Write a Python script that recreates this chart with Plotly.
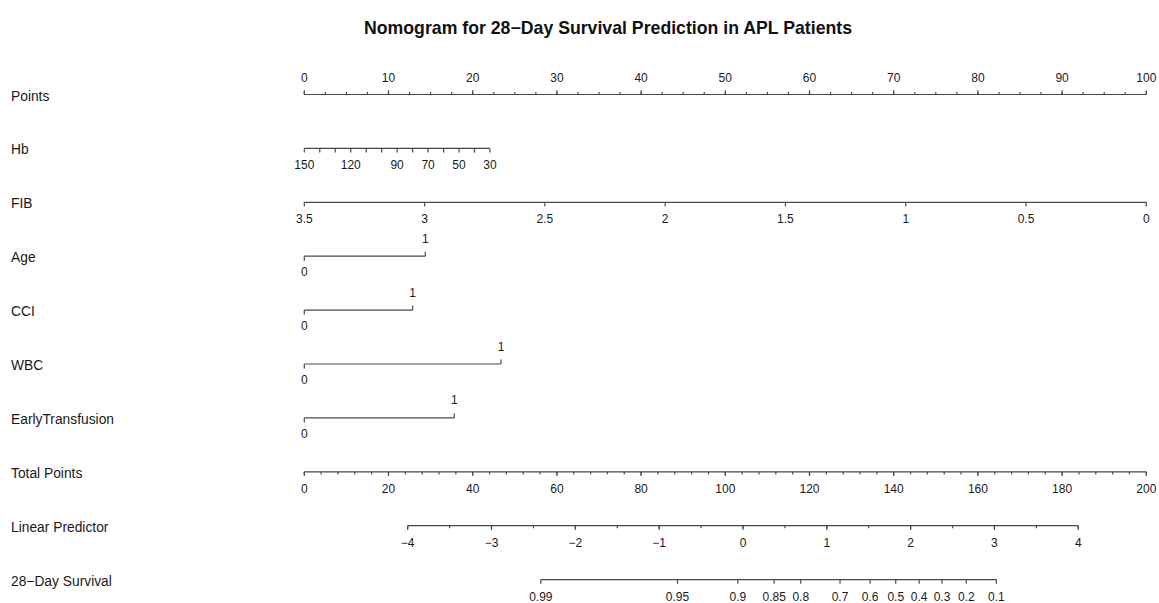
import numpy as np
import plotly.graph_objects as go

# ---------------------------------------------------------------- data
title = "Nomogram for 28\u2212Day Survival Prediction in APL Patients"

row_names = ["Points", "Hb", "FIB", "Age", "CCI", "WBC", "EarlyTransfusion",
             "Total Points", "Linear Predictor", "28\u2212Day Survival"]

# Points scale (0-100)
points_major = list(range(0, 101, 10))
points_minor = list(np.arange(0, 100.01, 2.5))

# Hb (g/L): linear contribution, 150 -> 0 points, 30 -> max points
hb_ticks = [150, 140, 130, 120, 110, 100, 90, 80, 70, 60, 50, 40, 30]
hb_labels = ["150", "", "", "120", "", "", "90", "", "70", "", "50", "", "30"]
hb_ref, hb_end, hb_max_points = 150, 30, 22.05

# FIB (g/L): 3.5 -> 0 points, 0 -> 100 points
fib_ticks = [3.5, 3, 2.5, 2, 1.5, 1, 0.5, 0]
fib_labels = ["3.5", "3", "2.5", "2", "1.5", "1", "0.5", "0"]
fib_ref, fib_end, fib_max_points = 3.5, 0, 100.0

# Binary predictors: points given to level 1
binary_vars = ["Age", "CCI", "WBC", "EarlyTransfusion"]
binary_points = [14.37, 12.87, 23.36, 17.81]

# Total points scale
total_max = 200
total_major = list(range(0, 201, 20))
total_minor = list(range(0, 201, 4))

# Linear predictor <-> total points
lp_major = [-4, -3, -2, -1, 0, 1, 2, 3, 4]
lp_minor = list(np.arange(-4, 4.01, 0.5))
lp0_total_points = 104.2
total_points_per_lp = 19.91

# 28-day survival: S = S0 ** exp(LP)
surv_ticks = [0.99, 0.95, 0.9, 0.85, 0.8, 0.7, 0.6, 0.5, 0.4, 0.3, 0.2, 0.1]
surv_labels = ["0.99", "0.95", "0.9", "0.85", "0.8", "0.7", "0.6", "0.5",
               "0.4", "0.3", "0.2", "0.1"]
baseline_surv_28 = 0.894

# ---------------------------------------------------------------- scales
def lin_points(v, ref, end, maxp):
    return (ref - v) / (ref - end) * maxp


def total_to_x(tp):
    return tp * 100.0 / total_max


def lp_to_x(lp):
    return total_to_x(lp0_total_points + lp * total_points_per_lp)


def surv_to_x(s):
    lp = np.log(np.log(s) / np.log(baseline_surv_28))
    return lp_to_x(lp)


def fmt_minus(v):
    return str(v).replace("-", "\u2212")

# ---------------------------------------------------------------- layout
W, H = 1159, 603
px0, px_per_pt = 304.3, 8.42
x_lo = -px0 / px_per_pt
x_hi = x_lo + W / px_per_pt

row_y = [94.5 + 53.9 * i for i in range(len(row_names))]
LINE_COL = "#4a4a4a"
TEXT_COL = "#1a1a1a"
FONT = "Liberation Sans, Arial, Helvetica, sans-serif"
TICK_FS = 12
NAME_FS = 13.8
MAJ, MIN = 4.2, 2.6

seg_x, seg_y = [], []


def seg(x0, y0, x1, y1):
    seg_x.extend([x0, x1, None])
    seg_y.extend([y0, y1, None])


lab_x, lab_y, lab_t = [], [], []


def lab(x, y, t):
    if t != "":
        lab_x.append(x)
        lab_y.append(y)
        lab_t.append(t)


# Points row: ticks up, labels above
y = row_y[0]
seg(0, y, 100, y)
for v in points_minor:
    seg(v, y, v, y - MIN)
for v in points_major:
    seg(v, y, v, y - MAJ)
    lab(v, y - 15.5, str(v))

# Hb row
y = row_y[1]
hx = [lin_points(v, hb_ref, hb_end, hb_max_points) for v in hb_ticks]
seg(min(hx), y, max(hx), y)
for xv, t in zip(hx, hb_labels):
    seg(xv, y, xv, y + MAJ)
    lab(xv, y + 18, t)

# FIB row
y = row_y[2]
fx = [lin_points(v, fib_ref, fib_end, fib_max_points) for v in fib_ticks]
seg(min(fx), y, max(fx), y)
for xv, t in zip(fx, fib_labels):
    seg(xv, y, xv, y + MAJ)
    lab(xv, y + 18, t)

# Binary rows: level 0 below the line, level 1 above
for i, p in enumerate(binary_points):
    y = row_y[3 + i]
    seg(0, y, p, y)
    seg(0, y, 0, y + 4.5)
    seg(p, y, p, y - 4.5)
    lab(0, y + 17, "0")
    lab(p, y - 16.5, "1")

# Total points row
y = row_y[7]
seg(total_to_x(0), y, total_to_x(total_max), y)
for v in total_minor:
    seg(total_to_x(v), y, total_to_x(v), y + MIN)
for v in total_major:
    seg(total_to_x(v), y, total_to_x(v), y + MAJ)
    lab(total_to_x(v), y + 18, str(v))

# Linear predictor row
y = row_y[8]
seg(lp_to_x(min(lp_major)), y, lp_to_x(max(lp_major)), y)
for v in lp_minor:
    seg(lp_to_x(v), y, lp_to_x(v), y + MIN)
for v in lp_major:
    seg(lp_to_x(v), y, lp_to_x(v), y + MAJ)
    lab(lp_to_x(v), y + 18, fmt_minus(v))

# Survival row
y = row_y[9]
sx = [surv_to_x(s) for s in surv_ticks]
seg(min(sx), y, max(sx), y)
for xv, t in zip(sx, surv_labels):
    seg(xv, y, xv, y + MAJ)
    lab(xv, y + 18, t)

fig = go.Figure()
fig.add_trace(go.Scatter(x=seg_x, y=seg_y, mode="lines",
                         line=dict(color=LINE_COL, width=1.2),
                         hoverinfo="skip", showlegend=False))
fig.add_trace(go.Scatter(x=lab_x, y=lab_y, text=lab_t, mode="text",
                         textposition="middle center",
                         textfont=dict(family=FONT, size=TICK_FS, color=TEXT_COL),
                         hoverinfo="skip", showlegend=False))

annotations = []
for name, yv in zip(row_names, row_y):
    annotations.append(dict(x=9 / W, y=yv + 1.5, xref="x domain", yref="y",
                            text=name, showarrow=False, xanchor="left",
                            yanchor="middle",
                            font=dict(family=FONT, size=NAME_FS, color=TEXT_COL)))
annotations.append(dict(x=608 / W, y=28, xref="x domain", yref="y",
                        text="<b>" + title + "</b>", showarrow=False,
                        xanchor="center", yanchor="middle",
                        font=dict(family=FONT, size=17.7, color="#111111")))

fig.update_layout(
    width=W, height=H,
    margin=dict(l=0, r=0, t=0, b=0),
    paper_bgcolor="white", plot_bgcolor="white",
    xaxis=dict(range=[x_lo, x_hi], visible=False, fixedrange=True),
    yaxis=dict(range=[H, 0], visible=False, fixedrange=True),
    annotations=annotations,
    showlegend=False,
)

fig.write_html("out.html")
